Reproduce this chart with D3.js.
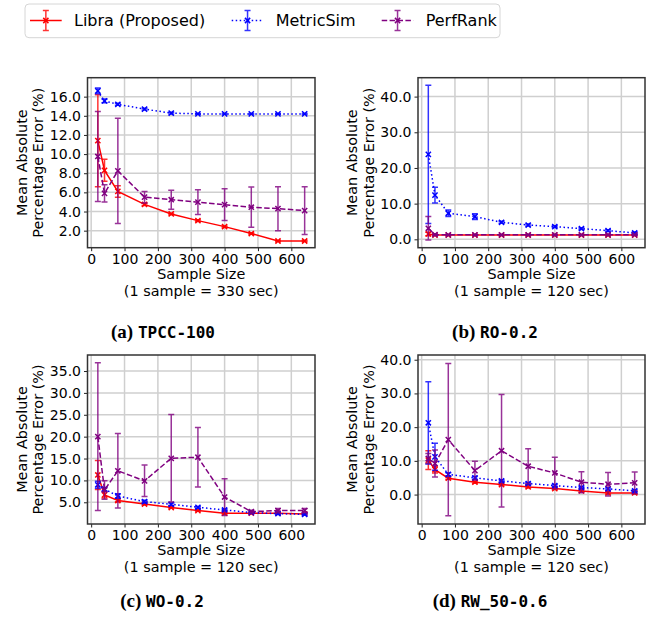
<!DOCTYPE html>
<html>
<head>
<meta charset="utf-8">
<script src="https://cdn.jsdelivr.net/npm/d3@7"></script>
<style>
  body { margin: 0; background: #fff; }
  text { font-family: "DejaVu Sans", sans-serif; fill: #000; }
</style>
</head>
<body>
<script>
// sample sizes shared by all four panels
var sampleSizes = [20, 40, 80, 160, 240, 320, 400, 480, 560, 640];
var xTicks = [0, 100, 200, 300, 400, 500, 600];
var seriesNames = ["Libra (Proposed)", "MetricSim", "PerfRank"];

// (a) TPCC-100
var tpccLibra = [11.4, 8.3, 6.1, 4.75, 3.75, 3.05, 2.42, 1.7, 0.92, 0.92];
var tpccLibraErr = [4.8, 1.15, 0.6, 0.12, 0.08, 0.08, 0.08, 0.08, 0.05, 0.05];
var tpccMetric = [16.6, 15.55, 15.2, 14.7, 14.28, 14.2, 14.2, 14.2, 14.2, 14.2];
var tpccMetricErr = [0.3, 0.2, 0.1, 0.1, 0.08, 0.05, 0.05, 0.05, 0.05, 0.05];
var tpccPerf = [9.75, 5.9, 8.25, 5.5, 5.23, 4.98, 4.72, 4.45, 4.3, 4.1];
var tpccPerfErr = [4.7, 0.9, 5.5, 0.6, 1.0, 1.3, 1.65, 2.1, 2.3, 2.5];
var tpccYTicks = [2, 4, 6, 8, 10, 12, 14, 16];

// (b) RO-0.2
var roLibra = [1.5, 1.2, 1.2, 1.2, 1.2, 1.2, 1.2, 1.2, 1.2, 1.2];
var roLibraErr = [0.5, 0.15, 0.1, 0.1, 0.1, 0.1, 0.1, 0.1, 0.1, 0.1];
var roMetric = [23.8, 12.4, 7.3, 6.35, 4.77, 4.0, 3.55, 3.0, 2.43, 1.78];
var roMetricErr = [19.4, 2.2, 0.9, 0.8, 0.3, 0.3, 0.25, 0.25, 0.25, 0.25];
var roPerf = [3.1, 1.3, 1.25, 1.25, 1.25, 1.25, 1.25, 1.25, 1.25, 1.25];
var roPerfErr = [3.3, 0.2, 0.1, 0.1, 0.1, 0.1, 0.1, 0.1, 0.1, 0.1];
var roYTicks = [0, 10, 20, 30, 40];

// (c) WO-0.2
var woLibra = [11.25, 6.7, 5.4, 4.6, 3.8, 3.1, 2.5, 2.5, 2.5, 2.35];
var woLibraErr = [3.3, 0.7, 0.3, 0.2, 0.15, 0.15, 0.15, 0.15, 0.1, 0.1];
var woMetric = [9.0, 8.0, 6.45, 5.15, 4.55, 3.86, 3.25, 2.65, 2.4, 2.25];
var woMetricErr = [0.8, 0.4, 0.5, 0.3, 0.3, 0.2, 0.2, 0.15, 0.2, 0.2];
var woPerf = [20.0, 7.8, 12.2, 9.9, 15.05, 15.3, 6.2, 2.87, 3.1, 3.1];
var woPerfErr = [16.9, 2.1, 8.5, 3.6, 10.0, 6.8, 4.2, 0.3, 0.5, 0.5];
var woYTicks = [5, 10, 15, 20, 25, 30, 35];

// (d) RW_50-0.6
var rwLibra = [10.2, 7.4, 4.85, 3.66, 2.97, 2.28, 1.78, 1.09, 0.5, 0.5];
var rwLibraErr = [2.8, 1.0, 0.3, 0.3, 0.3, 0.3, 0.3, 0.3, 0.3, 0.3];
var rwMetric = [21.3, 11.2, 6.0, 4.95, 4.06, 3.27, 2.67, 2.08, 1.68, 1.1];
var rwMetricErr = [12.2, 4.0, 0.5, 0.4, 0.3, 0.3, 0.3, 0.3, 0.3, 0.3];
var rwPerf = [10.7, 9.2, 16.3, 7.1, 13.0, 8.4, 6.4, 3.66, 3.07, 3.47];
var rwPerfErr = [1.5, 4.0, 22.6, 2.8, 16.7, 5.2, 4.7, 3.1, 3.5, 3.2];
var rwYTicks = [0, 10, 20, 30, 40];

// line styles per series
var colors = ["#ff0000", "#0000ff", "#800080"];
var dashes = [null, "1.5,2.5", "5.5,2.4"];

var W = 651, H = 624;
var svg = d3.select("body").append("svg")
    .attr("width", W).attr("height", H)
    .attr("xmlns", "http://www.w3.org/2000/svg");

var panels = [
    {id: "a", label: "(a)", name: "TPCC-100", note: "(1 sample = 330 sec)",
     means: [tpccLibra, tpccMetric, tpccPerf], errs: [tpccLibraErr, tpccMetricErr, tpccPerfErr],
     yTicks: tpccYTicks, yDomain: [0.22, 17.98],
     left: 87.5, right: 315, top: 77.7, bottom: 247.7, capX: 163, capY: 338},
    {id: "b", label: "(b)", name: "RO-0.2", note: "(1 sample = 120 sec)",
     means: [roLibra, roMetric, roPerf], errs: [roLibraErr, roMetricErr, roPerfErr],
     yTicks: roYTicks, yDomain: [-2.35, 45.3],
     left: 418, right: 645, top: 77.7, bottom: 247.7, capX: 495, capY: 338},
    {id: "c", label: "(c)", name: "WO-0.2", note: "(1 sample = 120 sec)",
     means: [woLibra, woMetric, woPerf], errs: [woLibraErr, woMetricErr, woPerfErr],
     yTicks: woYTicks, yDomain: [0.04, 38.66],
     left: 87.5, right: 315, top: 355, bottom: 524, capX: 162, capY: 607},
    {id: "d", label: "(d)", name: "RW_50-0.6", note: "(1 sample = 120 sec)",
     means: [rwLibra, rwMetric, rwPerf], errs: [rwLibraErr, rwMetricErr, rwPerfErr],
     yTicks: rwYTicks, yDomain: [-8.73, 41.4],
     left: 418, right: 645, top: 355, bottom: 524, capX: 490, capY: 607}
];

function xMark(sel, cx, cy, col) {
    var s = 2.6;
    sel.append("path")
        .attr("d", "M" + (cx - s) + "," + (cy - s) + "L" + (cx + s) + "," + (cy + s) +
                   "M" + (cx - s) + "," + (cy + s) + "L" + (cx + s) + "," + (cy - s))
        .attr("stroke", col).attr("stroke-width", 1.5).attr("fill", "none");
}

function errBar(sel, cx, y1, y2, col) {
    var c = 3;
    sel.append("path")
        .attr("d", "M" + cx + "," + y1 + "V" + y2 +
                   "M" + (cx - c) + "," + y1 + "H" + (cx + c) +
                   "M" + (cx - c) + "," + y2 + "H" + (cx + c))
        .attr("stroke", col).attr("stroke-width", 1.5).attr("fill", "none")
        .attr("opacity", 0.8);
}

panels.forEach(function(p) {
    var g = svg.append("g");
    var x = d3.scaleLinear().domain([-11, 671]).range([p.left, p.right]);
    var y = d3.scaleLinear().domain(p.yDomain).range([p.bottom, p.top]);

    // grid
    g.selectAll(".gx").data(xTicks).enter().append("line")
        .attr("x1", function(d) { return x(d); }).attr("x2", function(d) { return x(d); })
        .attr("y1", p.top).attr("y2", p.bottom)
        .attr("stroke", "#cfcfcf").attr("stroke-width", 1.5);
    g.selectAll(".gy").data(p.yTicks).enter().append("line")
        .attr("x1", p.left).attr("x2", p.right)
        .attr("y1", function(d) { return y(d); }).attr("y2", function(d) { return y(d); })
        .attr("stroke", "#cfcfcf").attr("stroke-width", 1.5);

    // axes
    var xa = g.append("g").attr("transform", "translate(0," + p.bottom + ")")
        .call(d3.axisBottom(x).tickValues(xTicks).tickSize(3.5).tickPadding(2.5).tickFormat(d3.format("d")));
    var ya = g.append("g").attr("transform", "translate(" + p.left + ",0)")
        .call(d3.axisLeft(y).tickValues(p.yTicks).tickSize(3.5).tickPadding(3).tickFormat(d3.format(".1f")));
    [xa, ya].forEach(function(a) {
        a.select(".domain").remove();
        a.selectAll("line").attr("stroke", "#222").attr("stroke-width", 1);
        a.selectAll("text").attr("font-size", "14px").attr("font-family", "DejaVu Sans").attr("fill", "#111");
    });

    // series
    var clipId = "clip-" + p.id;
    g.append("clipPath").attr("id", clipId).append("rect")
        .attr("x", p.left).attr("y", p.top).attr("width", p.right - p.left).attr("height", p.bottom - p.top);
    var plot = g.append("g").attr("clip-path", "url(#" + clipId + ")");
    var line = d3.line().x(function(d) { return x(d[0]); }).y(function(d) { return y(d[1]); });

    p.means.forEach(function(vals, si) {
        var col = colors[si];
        var pts = sampleSizes.map(function(s, i) { return [s, vals[i]]; });
        var sg = plot.append("g");
        sg.append("path").attr("d", line(pts))
            .attr("fill", "none").attr("stroke", col).attr("stroke-width", 1.5)
            .attr("stroke-dasharray", dashes[si]);
        pts.forEach(function(pt, i) {
            var e = p.errs[si][i];
            errBar(sg, x(pt[0]), y(pt[1] + e), y(pt[1] - e), col);
        });
        pts.forEach(function(pt) { xMark(sg, x(pt[0]), y(pt[1]), col); });
    });

    // frame
    g.append("rect").attr("x", p.left).attr("y", p.top)
        .attr("width", p.right - p.left).attr("height", p.bottom - p.top)
        .attr("fill", "none").attr("stroke", "#333").attr("stroke-width", 1.5);

    // axis labels
    var cy = (p.top + p.bottom) / 2, cx = (p.left + p.right) / 2;
    [["Mean Absolute", p.left - 66], ["Percentage Error (%)", p.left - 49.5]].forEach(function(t) {
        g.append("text").attr("transform", "translate(" + t[1] + "," + cy + ")rotate(-90)")
            .attr("text-anchor", "middle").attr("dominant-baseline", "central")
            .attr("font-size", "14.4px").text(t[0]);
    });
    g.append("text").attr("x", cx).attr("y", p.bottom + 31).attr("text-anchor", "middle")
        .attr("font-size", "14.4px").text("Sample Size");
    g.append("text").attr("x", cx).attr("y", p.bottom + 48).attr("text-anchor", "middle")
        .attr("font-size", "14.4px").text(p.note);

    // sub-caption
    var cap = svg.append("text").attr("x", p.capX).attr("y", p.capY).attr("text-anchor", "middle");
    cap.append("tspan").attr("font-family", "Liberation Serif, serif").attr("font-weight", "bold")
        .attr("font-size", "19px").text(p.label + " ");
    cap.append("tspan").attr("font-family", "DejaVu Sans Mono, monospace").attr("font-weight", "bold")
        .attr("font-size", "16px").text(p.name);
});

// legend
var lg = svg.append("g");
lg.append("rect").attr("x", 25).attr("y", 4).attr("width", 475).attr("height", 33.7)
    .attr("rx", 4).attr("fill", "#fff").attr("stroke", "#d6d6d6").attr("stroke-width", 1);
var handleX = [30, 231.7, 381.7];
seriesNames.forEach(function(name, si) {
    var hx = handleX[si], hy = 20.5, col = colors[si];
    lg.append("line").attr("x1", hx).attr("x2", hx + 31.7).attr("y1", hy).attr("y2", hy)
        .attr("stroke", col).attr("stroke-width", 1.5).attr("stroke-dasharray", dashes[si]);
    errBar(lg, hx + 15.85, hy - 10, hy + 10, col);
    xMark(lg, hx + 15.85, hy, col);
    lg.append("text").attr("x", hx + 44).attr("y", hy).attr("dominant-baseline", "central")
        .attr("font-size", "16px").text(name);
});
</script>
</body>
</html>
